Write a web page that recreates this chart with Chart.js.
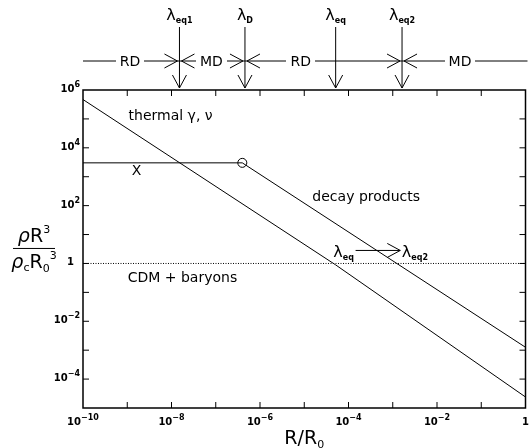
<!DOCTYPE html>
<html>
<head>
<meta charset="utf-8">
<script src="https://cdn.jsdelivr.net/npm/chart.js@4/dist/chart.umd.min.js"></script>
<style>
  html, body { margin: 0; padding: 0; background: #fff; }
  #wrap { width: 531px; height: 448px; position: relative; }
</style>
</head>
<body>
<div id="wrap"><canvas id="c" width="531" height="448"></canvas></div>
<script>
// ── data (log10 values turned into numbers) ──
const thermalR   = [1e-10, Math.pow(10, -4.29), 1];
const thermalRho = [Math.pow(10, 5.67), Math.pow(10, -0.05), Math.pow(10, -4.62)];

const xR   = [1e-10, Math.pow(10, -6.4)];
const xRho = [Math.pow(10, 3.48), Math.pow(10, 3.48)];

const decayR   = [Math.pow(10, -6.4), 1];
const decayRho = [Math.pow(10, 3.48), Math.pow(10, -2.9)];

const cdmR   = [1e-10, 1];
const cdmRho = [1, 1];

const xTickExps = [-10, -8, -6, -4, -2, 0];
const yTickExps = [6, 4, 2, 0, -2, -4];

// epochs marked above the frame
const lambdaSubs = ['eq1', 'D', 'eq', 'eq2'];
const lambdaR    = [Math.pow(10, -7.82), Math.pow(10, -6.34), Math.pow(10, -4.29), Math.pow(10, -2.79)];
const lambdaHeads = [true, true, false, true];
const regimeNames = ['RD', 'MD', 'RD', 'MD'];
const regimeR     = [Math.pow(10, -8.94), Math.pow(10, -7.1), Math.pow(10, -5.08), Math.pow(10, -1.48)];

const pts = (xs, ys) => xs.map((x, i) => ({ x: x, y: ys[i] }));

// ── drawing helpers ──
const FONT = '"DejaVu Sans", "Liberation Sans", sans-serif';

// draw a run of pieces: {t, size, dy, weight, style}
function runs(ctx, parts, x, y, align) {
    let w = 0;
    parts.forEach(p => {
        ctx.font = (p.style || '') + ' ' + (p.weight || 'normal') + ' ' + p.size + 'px ' + FONT;
        p.w = ctx.measureText(p.t).width;
        w += p.w + (p.gap || 0);
    });
    let cx = align === 'center' ? x - w / 2 : align === 'right' ? x - w : x;
    ctx.textAlign = 'left';
    ctx.textBaseline = 'alphabetic';
    parts.forEach(p => {
        ctx.font = (p.style || '') + ' ' + (p.weight || 'normal') + ' ' + p.size + 'px ' + FONT;
        ctx.fillText(p.t, cx, y + (p.dy || 0));
        cx += p.w + (p.gap || 0);
    });
    return w;
}

function powLabel(e) {
    if (e === 0) return [{ t: '1', size: 10, weight: 'bold' }];
    return [{ t: '10', size: 10, weight: 'bold' }, { t: (e < 0 ? '\u2212' : '') + Math.abs(e), size: 8, weight: 'bold', dy: -5 }];
}

function lambda(sub) {
    return [{ t: '\u03bb', size: 16 }, { t: sub, size: 8, weight: 'bold', dy: 3 }];
}

function headDown(ctx, x, y) {
    ctx.beginPath();
    ctx.moveTo(x - 7, y - 13); ctx.lineTo(x, y); ctx.lineTo(x + 7, y - 13);
    ctx.stroke();
}
function headSide(ctx, x, y, dir) {
    ctx.beginPath();
    ctx.moveTo(x - dir * 13, y - 7); ctx.lineTo(x, y); ctx.lineTo(x - dir * 13, y + 7);
    ctx.stroke();
}

const decor = {
    id: 'decor',
    afterDraw(chart) {
        const ctx = chart.ctx;
        const a = chart.chartArea;
        const sx = chart.scales.x, sy = chart.scales.y;
        ctx.save();
        ctx.strokeStyle = '#000';
        ctx.fillStyle = '#000';

        // frame
        ctx.lineWidth = 1.5;
        ctx.strokeRect(a.left, a.top, a.right - a.left, a.bottom - a.top);

        // decade ticks on all four sides, pointing inward
        ctx.lineWidth = 1;
        ctx.beginPath();
        for (let e = -9; e <= -1; e++) {
            const px = sx.getPixelForValue(Math.pow(10, e));
            ctx.moveTo(px, a.bottom); ctx.lineTo(px, a.bottom - 6);
            ctx.moveTo(px, a.top); ctx.lineTo(px, a.top + 6);
        }
        for (let e = -4; e <= 5; e++) {
            const py = sy.getPixelForValue(Math.pow(10, e));
            ctx.moveTo(a.left, py); ctx.lineTo(a.left + 6, py);
            ctx.moveTo(a.right, py); ctx.lineTo(a.right - 6, py);
        }
        ctx.stroke();

        // tick labels
        xTickExps.forEach(e => {
            runs(ctx, powLabel(e), sx.getPixelForValue(Math.pow(10, e)), a.bottom + 17, 'center');
        });
        yTickExps.forEach(e => {
            runs(ctx, powLabel(e), a.left - (e === 0 ? 9 : 3), sy.getPixelForValue(Math.pow(10, e)) + 2, 'right');
        });

        // axis titles
        runs(ctx, [{ t: 'R/R', size: 19 }, { t: '0', size: 11, dy: 4 }], (a.left + a.right) / 2, a.bottom + 36, 'center');
        const fx = 34, fy = sy.getPixelForValue(1) - 15;
        runs(ctx, [{ t: '\u03c1', size: 19, style: 'italic' }, { t: 'R', size: 19 }, { t: '3', size: 11, dy: -9 }], fx, fy - 6, 'center');
        ctx.beginPath(); ctx.moveTo(13, fy); ctx.lineTo(55, fy); ctx.stroke();
        runs(ctx, [{ t: '\u03c1', size: 19, style: 'italic' }, { t: 'c', size: 11, dy: 3 }, { t: 'R', size: 19 }, { t: '0', size: 11, dy: 4 }, { t: '3', size: 11, dy: -9 }], fx, fy + 20, 'center');

        // epoch arrows above the frame
        const hy = 61;
        ctx.beginPath(); ctx.moveTo(a.left, hy); ctx.lineTo(a.right + 2, hy); ctx.stroke();
        regimeNames.forEach((n, i) => {
            const px = sx.getPixelForValue(regimeR[i]);
            ctx.font = '14px ' + FONT;
            const w = ctx.measureText(n).width;
            ctx.clearRect(px - w / 2 - 4, hy - 8, w + 8, 16);
            runs(ctx, [{ t: n, size: 14 }], px, hy + 5, 'center');
        });
        lambdaR.forEach((r, i) => {
            const px = sx.getPixelForValue(r);
            ctx.beginPath(); ctx.moveTo(px, 27); ctx.lineTo(px, a.top - 2); ctx.stroke();
            headDown(ctx, px, a.top - 2);
            if (lambdaHeads[i]) {
                headSide(ctx, px - 2, hy, 1);
                headSide(ctx, px + 2, hy, -1);
            }
            runs(ctx, lambda(lambdaSubs[i]), px, 20, 'center');
        });

        // labels inside the plot
        const P = (lx, ly) => [sx.getPixelForValue(Math.pow(10, lx)), sy.getPixelForValue(Math.pow(10, ly))];
        let p = P(-8.97, 5.13);
        runs(ctx, [{ t: 'thermal \u03b3, \u03bd', size: 14 }], p[0], p[1] + 5, 'left');
        p = P(-8.9, 3.23);
        runs(ctx, [{ t: 'X', size: 14 }], p[0], p[1] + 5, 'left');
        p = P(-3.6, 2.33);
        runs(ctx, [{ t: 'decay products', size: 14 }], p[0], p[1] + 5, 'center');
        p = P(-8.99, -0.47);
        runs(ctx, [{ t: 'CDM + baryons', size: 14 }], p[0], p[1] + 5, 'left');

        // lambda_eq -> lambda_eq2 shift
        p = P(-4.11, 0.4);
        runs(ctx, lambda('eq'), p[0], p[1] + 5, 'center');
        const q0 = P(-3.84, 0.45), q1 = P(-2.83, 0.45);
        ctx.beginPath(); ctx.moveTo(q0[0], q0[1]); ctx.lineTo(q1[0], q1[1]); ctx.stroke();
        headSide(ctx, q1[0], q1[1], 1);
        p = P(-2.5, 0.4);
        runs(ctx, lambda('eq2'), p[0], p[1] + 5, 'center');

        ctx.restore();
    }
};

const lineSet = (data, extra) => Object.assign({
    data: data, showLine: true, borderColor: '#000', borderWidth: 1,
    pointRadius: 0, fill: false, tension: 0
}, extra || {});

new Chart(document.getElementById('c'), {
    type: 'scatter',
    data: {
        datasets: [
            lineSet(pts(thermalR, thermalRho)),
            lineSet(pts(xR, xRho)),
            lineSet(pts(decayR, decayRho)),
            lineSet(pts(cdmR, cdmRho), { borderDash: [1, 1.5] }),
            { data: pts([decayR[0]], [decayRho[0]]), pointRadius: 4.5, borderColor: '#000',
              borderWidth: 1, backgroundColor: '#fff', showLine: false }
        ]
    },
    options: {
        responsive: false,
        animation: false,
        layout: { padding: { left: 83, right: 3, top: 90, bottom: 40 } },
        plugins: { legend: { display: false }, tooltip: { enabled: false } },
        scales: {
            x: { type: 'logarithmic', min: 1e-10, max: 1, display: false },
            y: { type: 'logarithmic', min: 1e-5, max: 1e6, display: false }
        }
    },
    plugins: [decor]
});
</script>
</body>
</html>
